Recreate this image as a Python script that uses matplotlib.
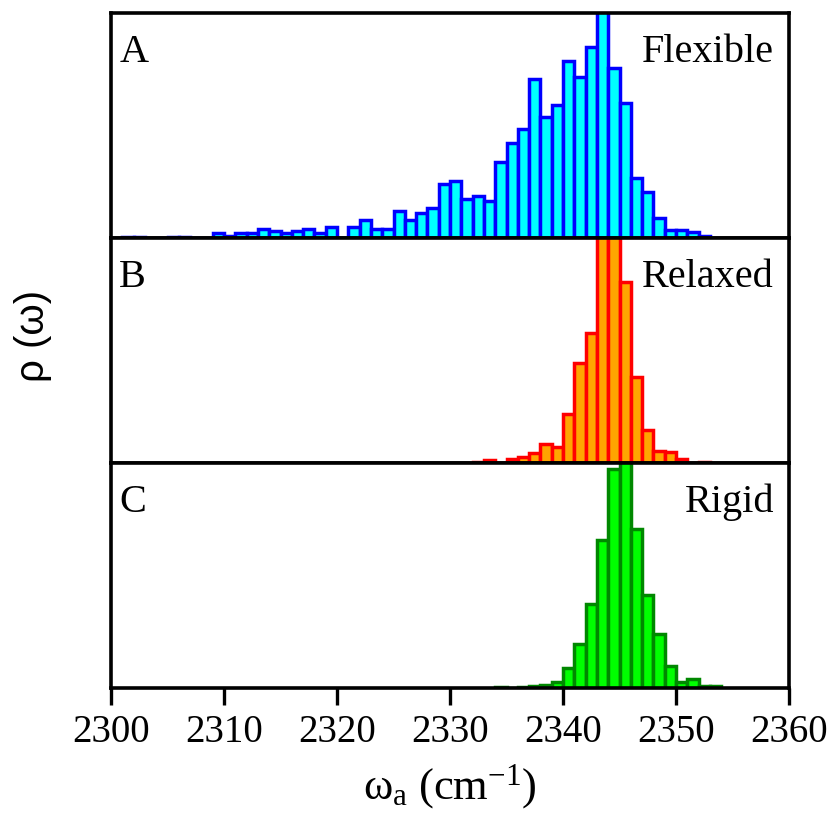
import matplotlib
matplotlib.use("Agg")
import matplotlib.pyplot as plt
import numpy as np

# ---- data (bin left edges, width 1 cm^-1) ----
flex_start = 2301
flex_vals = [1, 1, 0, 0, 1, 1, 0, 0, 5, 2, 5, 5, 9, 7, 5, 7, 9, 5, 11, 0,
             11, 18, 9, 9, 27, 18, 25, 30, 54, 56, 39, 42, 37, 75, 94, 108, 158, 120, 132, 175,
             160, 189, 230, 168, 134, 59, 46, 20, 8, 8, 6, 2]
relax_start = 2332
relax_vals = [1, 3, 0, 4, 6, 10, 19, 16, 49, 99, 129, 225, 235, 179, 85, 33, 12, 11, 4, 0, 1]
rigid_start = 2334
rigid_vals = [1, 0, 1, 2, 3, 6, 20, 44, 83, 147, 217, 230, 158, 92, 54, 22, 6, 9, 2, 2]

panel_letters = ["A", "B", "C"]
panel_names = ["Flexible", "Relaxed", "Rigid"]
xticks = [2300, 2310, 2320, 2330, 2340, 2350, 2360]

series = [
    (flex_start, flex_vals, "#00FFFF", "#0000FF"),
    (relax_start, relax_vals, "#FFA500", "#FF0000"),
    (rigid_start, rigid_vals, "#00FF00", "#008800"),
]

serif = ["Liberation Serif", "DejaVu Serif"]
plt.rcParams["mathtext.fontset"] = "custom"
plt.rcParams["mathtext.rm"] = "Liberation Serif"
plt.rcParams["mathtext.it"] = "Liberation Serif"

fig = plt.figure(figsize=(8.31, 8.25), dpi=100)
left, right = 111 / 831, 789 / 831
top, bottom = 1 - 13 / 825, 1 - 688 / 825
h = (top - bottom) / 3

for i, ((start, vals, fc, ec), let, name) in enumerate(zip(series, panel_letters, panel_names)):
    ax = fig.add_axes([left, top - (i + 1) * h, right - left, h])
    x = start + np.arange(len(vals))
    ax.bar(x, vals, width=1.0, align="edge", color=fc, edgecolor=ec, linewidth=2.5)
    ax.set_xlim(2300, 2360)
    ax.set_ylim(0, 223)
    ax.set_yticks([])
    for s in ax.spines.values():
        s.set_linewidth(2.6)
        s.set_zorder(5)
    ax.text(0.012, 0.782, let, transform=ax.transAxes, fontsize=29, family=serif, ha="left", va="baseline")
    ax.text(0.978, 0.782, name, transform=ax.transAxes, fontsize=29, family=serif, ha="right", va="baseline")
    if i < 2:
        ax.set_xticks([])
    else:
        ax.set_xticks(xticks)
        ax.set_xticklabels([str(t) for t in xticks], family=serif, fontsize=28)
        ax.tick_params(axis="x", direction="out", length=12, width=2.4, pad=7)
        ax.set_xlabel(r"$\omega_a$ (cm$^{-1}$)", family=serif, fontsize=32, labelpad=8)

fig.text(33 / 831, 1 - 336 / 825, "ρ (ω)", rotation=90, fontsize=29,
         family=["Liberation Sans", "DejaVu Sans"], ha="center", va="center")

fig.savefig("out.png", dpi=100)
